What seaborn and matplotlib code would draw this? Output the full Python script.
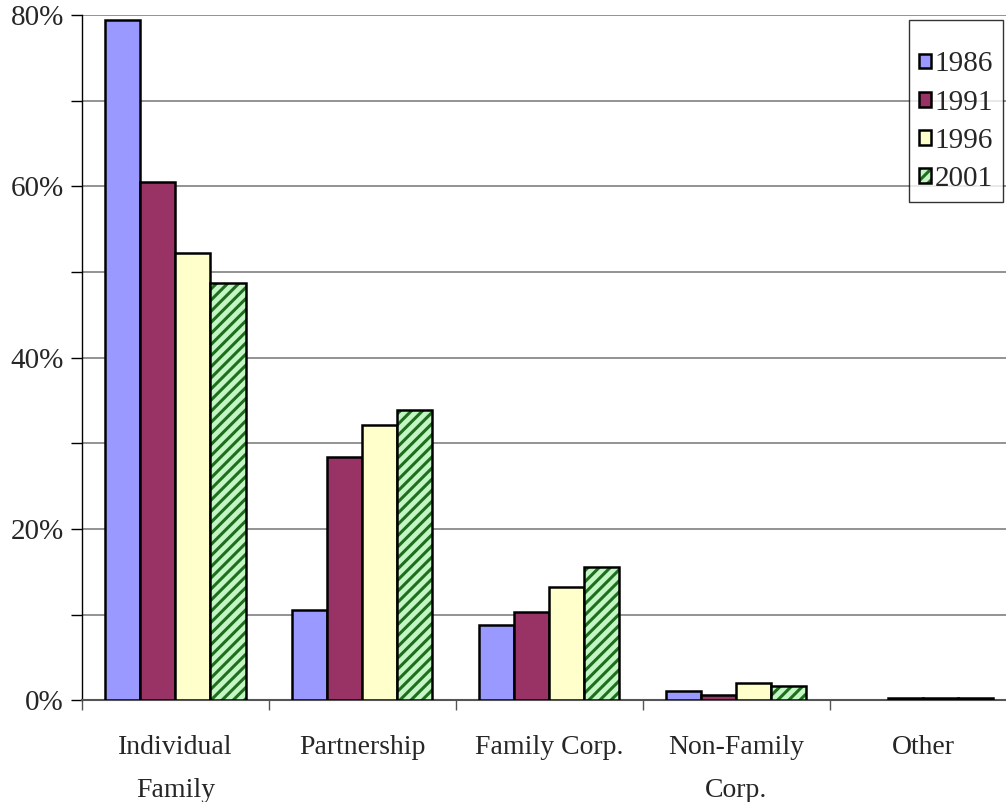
import numpy as np
import pandas as pd
import matplotlib
matplotlib.use("Agg")
import matplotlib.pyplot as plt
import matplotlib.colors as mcolors
from matplotlib.ticker import FixedLocator, FuncFormatter
import seaborn as sns

# data
categories = ["Individual\nFamily", "Partnership", "Family Corp.", "Non-Family\nCorp.", "Other"]
years = ["1986", "1991", "1996", "2001"]
share_1986 = [0.794, 0.105, 0.088, 0.011, np.nan]
share_1991 = [0.605, 0.284, 0.103, 0.006, 0.002]
share_1996 = [0.522, 0.321, 0.132, 0.020, 0.002]
share_2001 = [0.487, 0.339, 0.155, 0.016, 0.002]

rows = []
for yr, vals in zip(years, [share_1986, share_1991, share_1996, share_2001]):
    for cat, v in zip(categories, vals):
        rows.append({"type": cat, "year": yr, "share": v})
df = pd.DataFrame(rows)

sns.set_style("white")
plt.rcParams["font.family"] = ["Liberation Serif", "DejaVu Serif"]
plt.rcParams["hatch.linewidth"] = 2.2

palette = {"1986": "#9999ff", "1991": "#993366", "1996": "#ffffcc", "2001": "#c4f5c4"}

fig = plt.figure(figsize=(10.06, 8.02), dpi=100)
ax = fig.add_axes([0.0815, 0.127, 0.929, 0.854])

sns.barplot(data=df, x="type", y="share", hue="year", palette=palette,
            saturation=1, width=0.75, gap=0, edgecolor="black", linewidth=1.8,
            errorbar=None, ax=ax, zorder=3)

# striped fill for the 2001 bars
for p in ax.containers[3]:
    p.set_hatch("///")
    p._hatch_color = mcolors.to_rgba("#1e6e1e")

ax.set_ylim(0, 0.8)
ax.set_xlim(-0.5, 4.5)
ax.yaxis.set_major_locator(FixedLocator([i / 10 for i in range(9)]))
ax.yaxis.set_major_formatter(FuncFormatter(
    lambda v, _: f"{round(v * 100):d}%" if round(v * 100) % 20 == 0 else ""))
ax.yaxis.grid(True, color="#808080", linewidth=1.2, zorder=0)
ax.set_axisbelow(True)
ax.tick_params(axis="y", direction="out", length=8, width=1, color="black",
               labelsize=21, pad=5, left=True)

ax.set_xticks(range(len(categories)))
ax.set_xticklabels(categories, fontsize=20, linespacing=1.95)
ax.set_xticks([i + 0.5 for i in range(-1, len(categories))], minor=True)
ax.tick_params(axis="x", which="major", length=0, pad=25)
ax.tick_params(axis="x", which="minor", length=7, width=1, color="#555555", bottom=True)

ax.set_xlabel("")
ax.set_ylabel("")
for side in ["top", "right"]:
    ax.spines[side].set_visible(False)
ax.spines["left"].set_color("black")
ax.spines["left"].set_linewidth(1)
ax.spines["bottom"].set_color("#555555")
ax.spines["bottom"].set_linewidth(1.5)

handles = [c.patches[0] for c in ax.containers]
leg = ax.legend(handles, years, loc="upper right", bbox_to_anchor=(0.9855, 0.993),
                fontsize=21, frameon=True, fancybox=False, handlelength=0.4,
                handleheight=0.4, handletextpad=0.12, borderpad=0.35,
                labelspacing=0.42, borderaxespad=0,
                title=" ", title_fontsize=7)
leg.get_frame().set_edgecolor("black")
leg.get_frame().set_linewidth(1)
leg.set_zorder(5)

fig.savefig("out.png", dpi=100)
